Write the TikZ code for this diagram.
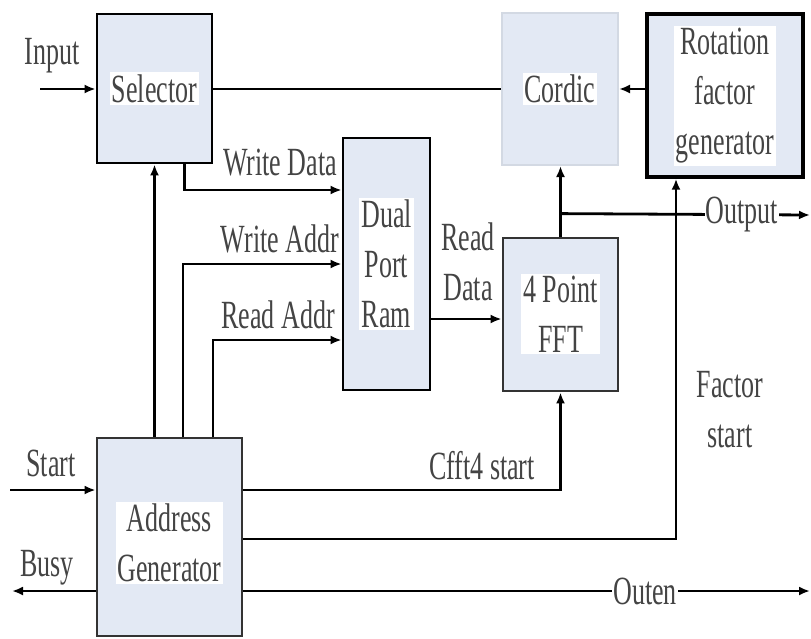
\documentclass[tikz,border=0pt]{standalone}
\usepackage{fontspec}
\setmainfont{Liberation Serif}[FakeStretch=0.65]
\usetikzlibrary{arrows.meta}
\definecolor{boxfill}{HTML}{E3E9F4}
\definecolor{txtcol}{HTML}{444444}
\definecolor{lightedge}{HTML}{D3D9E3}
\tikzset{
  blk/.style={draw=black, line width=2.8pt, fill=boxfill, inner sep=0pt},
  lblk/.style={draw=lightedge, line width=2pt, fill=boxfill, inner sep=0pt},
  btxt/.style={fill=white, text=txtcol, align=center, inner sep=2pt,
    font=\fontsize{40}{50}\selectfont},
  lbl/.style={text=txtcol, align=center, inner sep=1pt,
    font=\fontsize{40}{50}\selectfont},
  wlbl/.style={lbl, fill=white},
  wire/.style={draw=black, line width=2.8pt},
  arr/.style={wire, -{Latex[length=11pt,width=9pt]}},
}
\begin{document}
\begin{tikzpicture}[x=1pt,y=-1pt]
\useasboundingbox (0,0) rectangle (811,638);

% boxes
\node[blk, minimum width=115pt, minimum height=149pt] (sel) at (154.5,88.5) {};
\node[lblk, minimum width=116pt, minimum height=152pt] (cordic) at (560,89) {};
\node[blk, line width=3.4pt, minimum width=156pt, minimum height=163pt] (rot) at (725,95.5) {};
\node[blk, minimum width=87pt, minimum height=252pt] (ram) at (386.5,264) {};
\node[blk, draw=black!80, minimum width=115pt, minimum height=153pt] (fft) at (560.5,314.5) {};
\node[blk, draw=black!80, minimum width=145pt, minimum height=198pt] (addr) at (169.5,537) {};

% box texts
\node[btxt] (selt) at (sel) {Selector};
\node[btxt] (cordt) at (cordic) {Cordic};
\node[btxt] (rott) at (725,96) {Rotation\\factor\\generator};
\node[btxt] (ramt) at (386.5,264) {Dual\\Port\\Ram};
\node[btxt] (fftt) at (560.5,314) {4 Point\\FFT};
\node[btxt] (addrt) at (169.5,543) {Address\\Generator};

% free ends
\coordinate (inL) at (40,89);
\coordinate (startL) at (10,490);
\coordinate (busyL) at (12,591);
\coordinate (outR) at (810,215);
\coordinate (outenR) at (810,591);

% connectors
\draw[arr] (inL) -- (sel.west |- inL);
\draw[wire] (sel.east |- cordic.west) -- (cordic.west);
\draw[arr] (rot.west |- cordic.east) -- (cordic.east);
\draw[arr] ([xshift=30pt]sel.south) |- ([yshift=74pt]ram.west);
\draw[arr] ([xshift=13.5pt]addr.north) |- (ram.west);
\draw[arr] ([xshift=43.5pt]addr.north) |- ([yshift=-76pt]ram.west);
\draw[arr] (addr.north -| sel.south) -- (sel.south);
\draw[arr] ([yshift=-55pt]ram.east) -- ([yshift=-55pt]ram.east -| fft.west);
\draw[arr] (fft.north) -- (cordic.south -| fft.north);
\draw[arr] ([yshift=23pt]fft.north) -- (outR);
\draw[arr] ([yshift=47pt]addr.east) -| (fft.south);
\draw[arr] ([yshift=-2pt]addr.east) -| ([xshift=-49pt]rot.south);
\draw[arr] ([yshift=-54pt]addr.east) -- (outenR);
\draw[arr] (startL) -- ([yshift=47pt]addr.west);
\draw[arr] ([yshift=-54pt]addr.west) -- (busyL);

% labels
\node[lbl] (linput) at (52,56) {Input};
\node[lbl] (lwd) at (280,163) {Write Data};
\node[lbl] (lwa) at (280,239) {Write Addr};
\node[lbl] (lra) at (278,315) {Read Addr};
\node[lbl] (lrd) at (468,262) {Read\\Data};
\node[wlbl] (lout) at (742,215) {Output};
\node[lbl] (lfs) at (730,410) {Factor\\start};
\node[lbl] (lcf) at (482,466) {Cfft4 start};
\node[lbl] (lst) at (51,463) {Start};
\node[lbl] (lbusy) at (47,568) {Busy};
\node[wlbl] (louten) at (645,591) {Outen};
\end{tikzpicture}
\end{document}
